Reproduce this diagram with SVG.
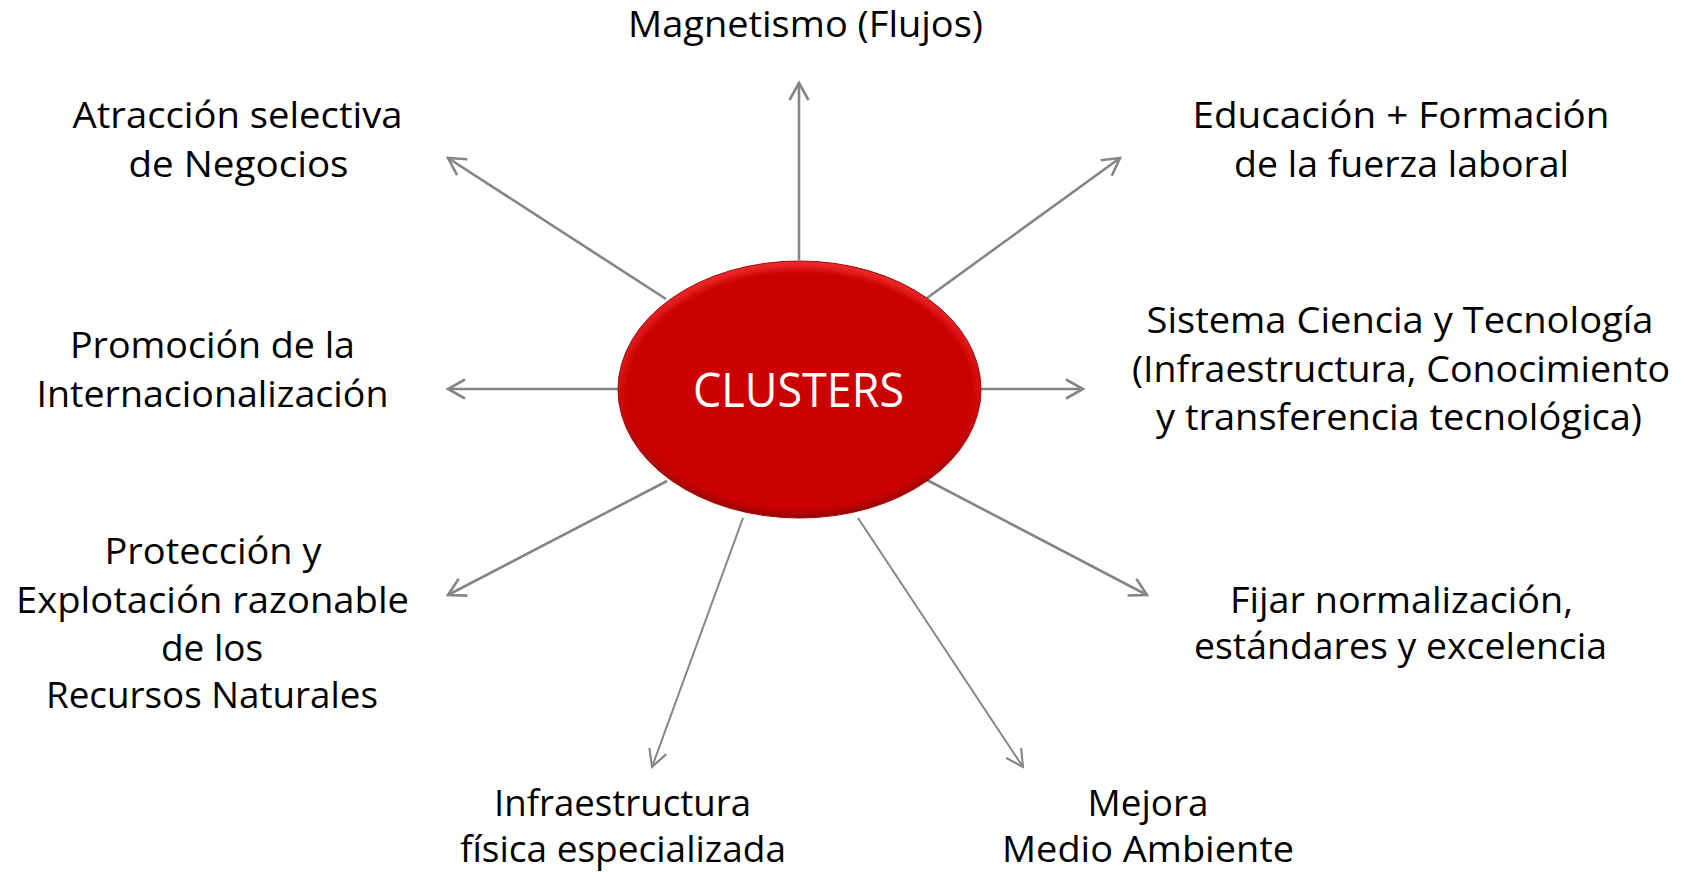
<svg xmlns="http://www.w3.org/2000/svg" width="1682" height="872" viewBox="0 0 1682 872">
<style>
.lbl{font-family:"Open Sans","Liberation Sans",sans-serif;font-size:36px;fill:#000;text-anchor:middle}
.cn{stroke:#858585;stroke-width:2.6;fill:none;marker-end:url(#ah)}
.cn2{stroke:#858585;stroke-width:2;fill:none;marker-end:url(#ah2)}
</style>
<defs>
<marker id="ah" viewBox="0 0 22 22" refX="19" refY="11" markerWidth="22" markerHeight="22" markerUnits="userSpaceOnUse" orient="auto">
<path d="M2,1.5 L19,11 L2,20.5" fill="none" stroke="#858585" stroke-width="2.6" stroke-linejoin="miter"/>
</marker>
<marker id="ah2" viewBox="0 0 22 22" refX="19" refY="11" markerWidth="22" markerHeight="22" markerUnits="userSpaceOnUse" orient="auto">
<path d="M2,2 L19,11 L2,20" fill="none" stroke="#858585" stroke-width="2.1"/>
</marker>
<linearGradient id="rim" x1="0" y1="0" x2="0" y2="1">
<stop offset="0" stop-color="#ef2a2a"/>
<stop offset="0.55" stop-color="#d10d0d"/>
<stop offset="1" stop-color="#8e0404"/>
</linearGradient>
<filter id="soft" x="-10%" y="-10%" width="120%" height="120%">
<feGaussianBlur stdDeviation="3"/>
</filter>
</defs>
<rect width="1682" height="872" fill="#fff"/>
<g id="connectors">
<path class="cn" d="M799,260 L799,83"/>
<path class="cn" d="M666,299 L448,158"/>
<path class="cn" d="M927,298 L1120,158"/>
<path class="cn" d="M980,389 L1083,389"/>
<path class="cn" d="M618,389 L448,389"/>
<path class="cn" d="M667,481 L448,595"/>
<path class="cn2" d="M743,518 L652,767"/>
<path class="cn" d="M927,480 L1147,595"/>
<path class="cn2" d="M858,518 L1023,767"/>
</g>
<g id="clusters">
<ellipse cx="799.5" cy="389.5" rx="181.5" ry="128.5" fill="url(#rim)" stroke="#9c0a0a" stroke-width="1"/>
<ellipse cx="799.5" cy="391" rx="176" ry="122.5" fill="#cb0606" filter="url(#soft)"/>
<text x="798.5" y="407" font-family="'Open Sans','Liberation Sans',sans-serif" font-size="48" fill="#fff" text-anchor="middle" textLength="211" lengthAdjust="spacingAndGlyphs">CLUSTERS</text>
</g>
<g id="n-magnetismo"><text class="lbl" x="805.5" y="37" textLength="355" lengthAdjust="spacingAndGlyphs">Magnetismo (Flujos)</text></g>
<g id="n-atraccion">
<text class="lbl" x="237.5" y="128" textLength="330" lengthAdjust="spacingAndGlyphs">Atracción selectiva</text>
<text class="lbl" x="238.5" y="177" textLength="220" lengthAdjust="spacingAndGlyphs">de Negocios</text>
</g>
<g id="n-promocion">
<text class="lbl" x="212.5" y="358" textLength="285" lengthAdjust="spacingAndGlyphs">Promoción de la</text>
<text class="lbl" x="212.5" y="407" textLength="352" lengthAdjust="spacingAndGlyphs">Internacionalización</text>
</g>
<g id="n-proteccion">
<text class="lbl" x="213" y="564" textLength="217" lengthAdjust="spacingAndGlyphs">Protección y</text>
<text class="lbl" x="212.5" y="613" textLength="393" lengthAdjust="spacingAndGlyphs">Explotación razonable</text>
<text class="lbl" x="212" y="661" textLength="102" lengthAdjust="spacingAndGlyphs">de los</text>
<text class="lbl" x="212" y="708" textLength="332" lengthAdjust="spacingAndGlyphs">Recursos Naturales</text>
</g>
<g id="n-infraestructura">
<text class="lbl" x="622.5" y="816" textLength="257" lengthAdjust="spacingAndGlyphs">Infraestructura</text>
<text class="lbl" x="623" y="862" textLength="326" lengthAdjust="spacingAndGlyphs">física especializada</text>
</g>
<g id="n-mejora">
<text class="lbl" x="1148" y="816" textLength="121" lengthAdjust="spacingAndGlyphs">Mejora</text>
<text class="lbl" x="1148" y="862" textLength="292" lengthAdjust="spacingAndGlyphs">Medio Ambiente</text>
</g>
<g id="n-fijar">
<text class="lbl" x="1401.5" y="613" textLength="343" lengthAdjust="spacingAndGlyphs">Fijar normalización,</text>
<text class="lbl" x="1400.5" y="659" textLength="413" lengthAdjust="spacingAndGlyphs">estándares y excelencia</text>
</g>
<g id="n-sistema">
<text class="lbl" x="1400" y="333" textLength="507" lengthAdjust="spacingAndGlyphs">Sistema Ciencia y Tecnología</text>
<text class="lbl" x="1401" y="382" textLength="538" lengthAdjust="spacingAndGlyphs">(Infraestructura, Conocimiento</text>
<text class="lbl" x="1399" y="430" textLength="486" lengthAdjust="spacingAndGlyphs">y transferencia tecnológica)</text>
</g>
<g id="n-educacion">
<text class="lbl" x="1401" y="128" textLength="417" lengthAdjust="spacingAndGlyphs">Educación + Formación</text>
<text class="lbl" x="1401.5" y="177" textLength="335" lengthAdjust="spacingAndGlyphs">de la fuerza laboral</text>
</g>
</svg>
